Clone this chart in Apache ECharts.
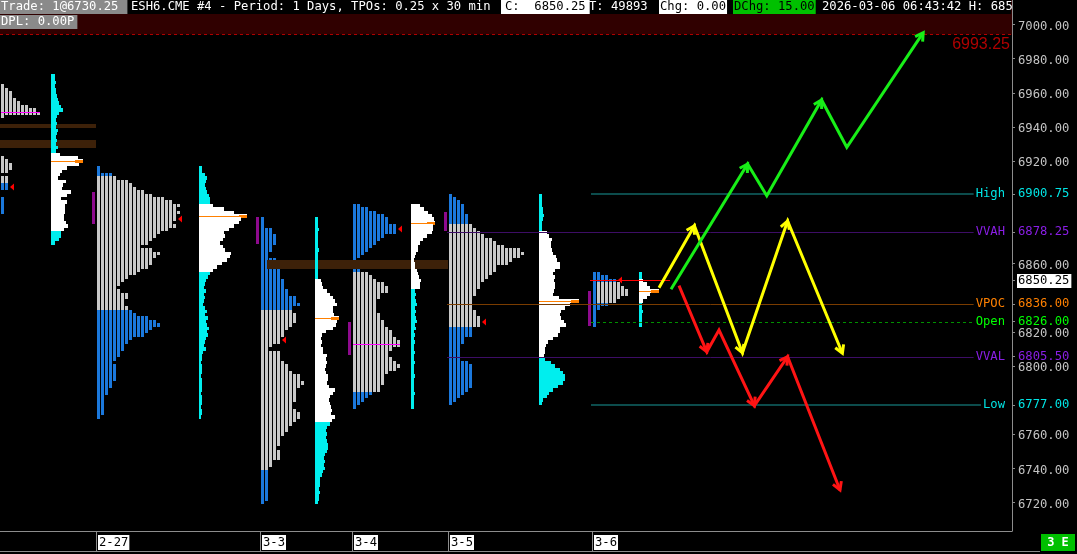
<!DOCTYPE html>
<html>
<head>
<meta charset="utf-8">
<script src="https://cdn.jsdelivr.net/npm/echarts@6.0.0/dist/echarts.min.js"></script>
<style>
html,body{margin:0;padding:0;background:#000;overflow:hidden}
#chart{width:1077px;height:554px}
</style>
</head>
<body>
<div id="chart"></div>
<script>
// ================= DATA =================
const ROW = 2;                      // each profile row covers 2 points
const yMin = 6703.3, yMax = 7014.35;
const xMax = 253;                   // 30-minute column slots across the chart

const sessionNames = ['2-26', '2-27', '3-3', '3-4', '3-5', '3-6'];
const sessionStart = [0.25, 24.25, 65.25, 88.25, 112.25, 148.25];   // slot where each TPO profile begins
const volumeStart  = [12.75, 49.75, 78.75, 102.75, 134.75, 159.75]; // slot where each volume profile begins

// TPO counts per 2-point row, from the top price downwards
const tpoTop = [6964, 6916, 6886, 6894, 6900, 6854];
const tpo_2_26 = [1,2,3,3,4,5,7,9,10,1,0,0,0,0,0,0,0,0,0,0,0,1,2,3,3,2,0,2,2,2,2,0,0,1,1,1,1,1];
const tpo_2_27 = [1,1,4,5,8,9,10,12,14,17,19,21,20,21,20,20,19,20,18,16,15,14,13,11,14,16,15,14,14,13,11,10,8,7,6,5,6,8,8,7,7,8,9,10,13,15,16,14,13,12,9,8,7,7,6,6,5,4,5,5,5,5,5,4,4,3,3,2,2,2,2,2,2,1];
const tpo_3_3 = [1,1,1,3,3,4,4,4,3,3,2,2,4,4,4,5,5,5,6,6,6,7,7,9,9,10,8,8,9,9,9,8,7,6,6,5,5,3,2,5,5,5,6,7,7,8,10,10,11,10,9,9,9,9,8,8,9,10,10,9,8,7,7,6,5,5,5,4,5,5,5,3,3,2,2,2,2,2,2,2,2,2,2,1];
const tpo_3_4 = [2,4,6,8,9,9,11,11,11,8,7,6,5,4,3,2,1,1,1,2,4,5,6,8,9,9,7,7,6,6,6,6,7,7,8,8,9,10,10,11,12,12,10,9,9,10,11,12,11,9,8,8,8,7,7,5,4,3,2,1];
const tpo_3_5 = [1,2,3,4,4,4,5,5,5,6,7,8,9,11,12,14,18,19,18,16,15,12,12,11,10,9,8,8,7,7,6,6,6,6,7,7,8,8,8,6,6,6,4,4,3,3,3,3,3,5,6,6,6,6,6,6,6,5,4,3,2,1];
const tpo_3_6 = [2,4,6,7,8,9,9,7,6,4,2,1,1,1,1,1];
const tpoValueLow  = [6907, 6833, 6739, 6785, 6823, 6837];  // grey (value) zone of each TPO profile
const tpoValueHigh = [6999, 6911, 6833, 6855, 6882.5, 6849];
const tpoPoc = [6949, null, null, 6812.7, null, null];
const ibHigh = [null, 6901.9, 6887.2, 6825.9, 6890.2, 6843.9];  // initial balance
const ibLow  = [null, 6883.1, 6871.4, 6806.6, 6879.0, 6823.4];
const closePrice = [6904.8, 6885.8, 6815.2, 6880.2, 6825.9, 6850.25];

// Volume per 2-point row (relative units), from the top price downwards
const volTop = [6970, 6916, 6886, 6894, 6900, 6854];
const vol_2_26 = [4,4,5,4,5,5,6,7,8,10,12,8,6,5,6,5,7,6,5,6,5,7,5,9,27,32,28,16,11,9,7,15,12,11,20,16,10,16,14,14,14,13,13,15,17,13,10,10,8,4];
const vol_2_27 = [3,3,6,8,7,6,7,8,10,11,11,14,25,35,48,42,40,35,30,25,26,24,21,24,26,32,31,28,23,18,14,11,9,7,6,5,7,5,6,5,4,6,8,6,9,7,8,10,8,9,7,6,5,7,4,3,3,2,3,3,3,2,3,3,3,3,2,3,3,3,2,3,3,2];
const vol_3_3 = [3,3,3,4,3,3,3,3,3,4,3,3,3,3,3,3,3,3,6,7,8,12,15,18,20,22,18,18,19,24,22,21,18,11,7,6,7,6,8,8,12,11,12,11,10,11,13,13,12,14,20,18,15,14,15,16,17,16,20,17,15,12,11,12,11,12,13,13,12,10,9,10,9,10,8,7,5,5,5,4,5,4,4,3];
const vol_3_4 = [9,13,17,21,23,24,22,22,21,16,12,9,7,7,5,4,3,4,4,6,7,8,10,9,9,4,5,4,5,6,4,5,4,5,6,4,5,3,4,3,4,3,3,4,3,3,4,3,3,3,4,3,3,3,3,4,3,3,3,3];
const vol_3_5 = [3,3,3,3,4,4,5,4,3,3,3,8,10,13,12,12,13,14,17,18,21,21,16,14,16,15,16,16,15,14,20,40,31,26,22,21,22,25,27,21,21,19,14,9,7,6,6,5,6,12,16,21,24,26,26,24,19,14,10,8,4,3];
const vol_3_6 = [3,3,4,8,11,20,11,8,4,3,3,4,3,3,3,3];
const volValueLow  = [6879, 6855, 6767, 6845, 6805.5, 6837];
const volValueHigh = [6925, 6895, 6851, 6895, 6878.25, 6851];
const volPoc = [6920, 6888, 6828, 6884, 6838, 6844];
const VOL_PER_SLOT = 4;

// Unfilled zones (price range, from session/column to session)
const bandHigh = [6942.0, 6932.3, 6862.0];
const bandLow  = [6939.6, 6927.7, 6856.8];
const bandFromSession = [0, 0, 2];
const bandFromCol = [-0.25, -0.25, 1.5];
const bandToSession = [1, 1, 4];

// Reference levels
const levelNames  = ['High', 'VVAH', 'VPOC', 'Open', 'VVAL', 'Low'];
const levelPrices = [6900.75, 6878.25, 6836.00, 6826.00, 6805.50, 6777.00];
const levelFromSession = [5, 4, 4, 5, 4, 5];
const lastPrice = 6850.25;
const alertPrice = 6993.25;

// Scenario arrows (slot, price)
const yellowX = [164.75, 173.6, 185.6, 196.9, 210.6];
const yellowP = [6845.8, 6882.1, 6807.7, 6884.9, 6807.4];
const greenX  = [167.75, 186.9, 191.7, 205.4, 211.7, 230.8];
const greenP  = [6844.9, 6918.3, 6899.7, 6955.8, 6928.1, 6995.2];
const redX    = [169.75, 176.7, 179.75, 188.6, 196.9, 210.0];
const redP    = [6847.0, 6808.3, 6821.0, 6776.7, 6805.4, 6727.3];
const yellowHeads = [1, 2, 3, 4];
const greenHeads  = [1, 3, 5];
const redHeads    = [1, 3, 4, 5];

// Axis labels
const dateLabels = ['2-27', '3-3', '3-4', '3-5', '3-6'];
const yTickLabels = [7000, 6980, 6960, 6940, 6920, 6860, 6820, 6800, 6760, 6740, 6720];

// Header texts
const hdrTrade = 'Trade: 1@6730.25';
const hdrTitle = 'ESH6.CME #4 - Period: 1 Days, TPOs: 0.25 x 30 min';
const hdrClose = 'C:  6850.25';
const hdrTicks = 'T: 49893';
const hdrChg = 'Chg: 0.00';
const hdrDChg = 'DChg: 15.00';
const hdrTime = '2026-03-06 06:43:42 H: 685';
const hdrDpl = 'DPL: 0.00P';
const cornerTag = '3 E';

// ================= BUILD =================
const MONO = '"DejaVu Sans Mono","Liberation Mono",monospace';
const FS = 12.2;
const FONT = FS + 'px ' + MONO;
const GRAY = '#c8c8c8', BLUE = '#1b78dc', CYAN = '#00eeee', WHITE = '#ffffff', ORANGE = '#ff8000';

const tpoSets = [tpo_2_26, tpo_2_27, tpo_3_3, tpo_3_4, tpo_3_5, tpo_3_6];
const volSets = [vol_2_26, vol_2_27, vol_3_3, vol_3_4, vol_3_5, vol_3_6];
const firstColumnBlue = [false, false, false, false, false, true];

const tpoData = [];
tpoSets.forEach((arr, s) => arr.forEach((c, i) => { if (c > 0) tpoData.push([sessionStart[s], tpoTop[s] - i * ROW, c, s]); }));
const volData = [];
volSets.forEach((arr, s) => arr.forEach((v, i) => { if (v > 0) volData.push([volumeStart[s], volTop[s] - i * ROW, v, s]); }));

function tpoCountAt(s, price) {
  const i = Math.round((tpoTop[s] - price) / ROW);
  return tpoSets[s][i] || 0;
}
const closeData = closePrice.map((p, s) => [sessionStart[s] + tpoCountAt(s, p), p]);
const pocData = [];
tpoPoc.forEach((p, s) => { if (p !== null) pocData.push([sessionStart[s], p, tpoCountAt(s, p)]); });
const ibData = [];
ibHigh.forEach((h, s) => { if (h !== null) ibData.push([sessionStart[s], h, ibLow[s]]); });
const bandData = bandHigh.map((h, i) => [sessionStart[bandFromSession[i]] + bandFromCol[i], h, sessionStart[bandToSession[i]] - 0.25, bandLow[i]]);
const levelData = levelPrices.map((p, i) => [sessionStart[levelFromSession[i]], p, i]);
const arrows = [
  { x: yellowX, p: yellowP, heads: yellowHeads, color: '#ffff00' },
  { x: greenX, p: greenP, heads: greenHeads, color: '#18ee18' },
  { x: redX, p: redP, heads: redHeads, color: '#ff1414' }
];
const arrowData = arrows.map((a, i) => [a.x[0], a.p[0], i]);

function X(api, slot) { return api.coord([slot, 6800])[0]; }
function Y(api, p) { return api.coord([10, p])[1]; }
function rowY(api, p) { return [Math.round(Y(api, p + ROW / 2)), Math.round(Y(api, p - ROW / 2))]; }

function renderTpo(params, api) {
  const p = api.value(1), n = api.value(2), s = api.value(3);
  const [y0, y1] = rowY(api, p);
  const inVA = p >= tpoValueLow[s] && p <= tpoValueHigh[s];
  const kids = [];
  for (let k = 0; k < n; k++) {
    const x = Math.round(X(api, sessionStart[s] + k));
    let fill = inVA ? GRAY : BLUE;
    if (k === 0 && firstColumnBlue[s]) fill = BLUE;
    kids.push({ type: 'rect', shape: { x: x, y: y0, width: 3, height: y1 - y0 }, style: { fill: fill } });
  }
  return { type: 'group', children: kids };
}

function renderVol(params, api) {
  const p = api.value(1), v = api.value(2), s = api.value(3);
  const [y0, y1] = rowY(api, p);
  const x0 = Math.round(X(api, volumeStart[s]));
  const x1 = Math.round(X(api, volumeStart[s] + v / VOL_PER_SLOT));
  const inVA = p >= volValueLow[s] && p <= volValueHigh[s];
  const kids = [{ type: 'rect', shape: { x: x0, y: y0, width: Math.max(1, x1 - x0), height: y1 - y0 }, style: { fill: inVA ? WHITE : CYAN } }];
  if (p === volPoc[s]) {
    const ym = Math.round((y0 + y1) / 2);
    kids.push({ type: 'rect', shape: { x: x0, y: ym, width: x1 - x0 - 7, height: 1 }, style: { fill: ORANGE } });
    kids.push({ type: 'rect', shape: { x: x1 - 8, y: ym - 1, width: 8, height: 3 }, style: { fill: ORANGE } });
  }
  return { type: 'group', children: kids };
}

function renderBand(params, api) {
  const xa = Math.round(X(api, api.value(0))), xb = Math.round(X(api, api.value(2)));
  const ya = Math.round(Y(api, api.value(1))), yb = Math.round(Y(api, api.value(3)));
  return { type: 'rect', shape: { x: xa, y: ya, width: xb - xa, height: yb - ya }, style: { fill: '#3d2109' } };
}

function renderIB(params, api) {
  const x = Math.round(X(api, api.value(0))) - 5;
  const ya = Math.round(Y(api, api.value(1))), yb = Math.round(Y(api, api.value(2)));
  return { type: 'rect', shape: { x: x, y: ya, width: 3, height: yb - ya }, style: { fill: '#8e0a8e' } };
}

function renderPoc(params, api) {
  const xa = Math.round(X(api, api.value(0)));
  const xb = Math.round(X(api, api.value(0) + api.value(2))) - 1;
  const y = Math.round(Y(api, api.value(1))) + 0.5;
  return { type: 'line', shape: { x1: xa, y1: y, x2: xb, y2: y }, style: { stroke: '#ff00ff', lineWidth: 1 } };
}

function renderClose(params, api) {
  const tx = Math.round(X(api, api.value(0))) + 1;
  const ty = Math.round(Y(api, api.value(1)));
  return { type: 'polygon', shape: { points: [[tx, ty], [tx + 4, ty - 3.5], [tx + 4, ty + 3.5]] }, style: { fill: '#ff0000' } };
}

const levelStyle = {
  High: { line: '#0c4c4c', width: 2, text: '#00e5e5' },
  Low:  { line: '#0c4c4c', width: 2, text: '#00e5e5' },
  VVAH: { line: '#3d0d66', width: 1, text: '#8a1ee6' },
  VVAL: { line: '#3d0d66', width: 1, text: '#8a1ee6' },
  VPOC: { line: '#7a3c00', width: 1, text: '#ff8000' },
  Open: { line: '#009000', width: 1, text: '#00ff00', dash: [3, 3] }
};
const CHAR_W = FS * 0.602;

function renderLevel(params, api) {
  const i = api.value(2), name = levelNames[i], st = levelStyle[name];
  const yc = Math.round(Y(api, api.value(1)));
  const yl = st.width === 2 ? yc : yc + 0.5;
  const xa = Math.round(X(api, api.value(0))) - 2;
  const nameRight = 1005;
  const xb = nameRight - name.length * CHAR_W - 2;
  return { type: 'group', children: [
    { type: 'line', shape: { x1: xa, y1: yl, x2: xb, y2: yl }, style: { stroke: st.line, lineWidth: st.width, lineDash: st.dash || null } },
    { type: 'text', x: nameRight, y: yc, style: { text: name, fill: st.text, font: FONT, align: 'right', verticalAlign: 'middle' } },
    { type: 'text', x: 1018, y: yc, style: { text: api.value(1).toFixed(2), fill: st.text, font: FONT, align: 'left', verticalAlign: 'middle' } }
  ] };
}

function renderLast(params, api) {
  const y = Math.round(Y(api, api.value(1))) + 0.5;
  const xa = Math.round(X(api, api.value(0))) - 3;
  const xb = Math.round(X(api, volumeStart[5])) + 31;
  return { type: 'group', children: [
    { type: 'line', shape: { x1: xa, y1: y, x2: xb, y2: y }, style: { stroke: '#ff0000', lineWidth: 1 } },
    { type: 'text', x: 1017, y: Math.round(y), style: { text: api.value(1).toFixed(2), fill: '#000', font: FONT, align: 'left', verticalAlign: 'middle', backgroundColor: '#fff', padding: [1, 2, 1, 1] } }
  ] };
}

function renderAlert(params, api) {
  const yTop = Y(api, yMax);
  const y = Math.round(Y(api, api.value(1))) - 1.5;
  const xa = X(api, 0), xb = X(api, xMax);
  return { type: 'group', children: [
    { type: 'rect', shape: { x: xa, y: yTop, width: xb - xa, height: y - yTop }, style: { fill: '#300000' } },
    { type: 'line', shape: { x1: xa, y1: y, x2: xb, y2: y }, style: { stroke: '#b00000', lineWidth: 1, lineDash: [3, 3] } },
    { type: 'text', x: xb - 2, y: y + 2, style: { text: api.value(1).toFixed(2), fill: '#b00000', font: '16px "Liberation Sans", Arial, sans-serif', align: 'right', verticalAlign: 'top' } }
  ] };
}

function renderArrow(params, api) {
  const a = arrows[api.value(2)];
  const pts = a.x.map((x, i) => api.coord([x, a.p[i]]));
  const kids = [{ type: 'polyline', shape: { points: pts }, style: { stroke: a.color, lineWidth: 3, fill: null, lineJoin: 'miter' } }];
  const L = 9, th = Math.PI / 6;
  a.heads.forEach(i => {
    const t = pts[i], f = pts[i - 1];
    const ang = Math.atan2(t[1] - f[1], t[0] - f[0]);
    const w1 = [t[0] - L * Math.cos(ang - th), t[1] - L * Math.sin(ang - th)];
    const w2 = [t[0] - L * Math.cos(ang + th), t[1] - L * Math.sin(ang + th)];
    kids.push({ type: 'polyline', shape: { points: [w1, t, w2] }, style: { stroke: a.color, lineWidth: 3, fill: null } });
  });
  return { type: 'group', children: kids };
}

function cs(name, data, render, z) {
  return { type: 'custom', name: name, coordinateSystem: 'cartesian2d', data: data, renderItem: render, clip: false, silent: true, animation: false, z: z, encode: { x: 0, y: 1 } };
}

const labelSlots = sessionStart.slice(1).map(v => v + 0.25);
const sepSlots = sessionStart.slice(1).map(v => v - 0.25);

function txt(text, x, y, fill, bg, pad) {
  return { type: 'text', x: x, y: y, z: 101, silent: true,
    style: { text: text, fill: fill, font: FONT, backgroundColor: bg || null, padding: pad || 0, verticalAlign: 'top', lineHeight: 14 } };
}

const option = {
  backgroundColor: '#000',
  animation: false,
  grid: { left: 0, right: 65, top: 0, bottom: 23, containLabel: false },
  xAxis: {
    type: 'value', min: 0, max: xMax,
    axisLine: { show: true, onZero: false, lineStyle: { color: '#8c8c8c', width: 1 } },
    axisTick: { show: true, customValues: sepSlots, length: 21, lineStyle: { color: '#8c8c8c' } },
    axisLabel: {
      show: true, customValues: labelSlots,
      formatter: function (v) { let k = 0; labelSlots.forEach((s, i) => { if (Math.abs(s - v) < 0.01) k = i; }); return dateLabels[k]; },
      color: '#000', backgroundColor: '#fff', fontFamily: MONO, fontSize: FS, align: 'left', margin: 4, padding: [1, 1, 0, 1], lineHeight: 14
    },
    splitLine: { show: false }
  },
  yAxis: {
    type: 'value', position: 'right', min: yMin, max: yMax,
    axisLine: { show: true, onZero: false, lineStyle: { color: '#8c8c8c' } },
    axisTick: { show: true, length: 3, customValues: yTickLabels.concat(levelPrices, [lastPrice]), lineStyle: { color: '#8c8c8c' } },
    axisLabel: {
      show: true, customValues: yTickLabels, margin: 6,
      formatter: v => '{t|' + v.toFixed(2) + '}',
      rich: { t: { color: '#c4c4c4', fontFamily: MONO, fontSize: FS, lineHeight: 14, padding: [4, 0, 0, 0] } }
    },
    splitLine: { show: false }
  },
  series: [
    cs('alert', [[0, alertPrice]], renderAlert, 1),
    cs('tpo', tpoData, renderTpo, 2),
    cs('bands', bandData, renderBand, 3),
    cs('volume', volData, renderVol, 4),
    cs('ib', ibData, renderIB, 5),
    cs('tpoPoc', pocData, renderPoc, 5),
    cs('close', closeData, renderClose, 6),
    cs('levels', levelData, renderLevel, 6),
    cs('last', [[sessionStart[5], lastPrice]], renderLast, 7),
    cs('arrows', arrowData, renderArrow, 8)
  ],
  graphic: { elements: [
    { type: 'rect', shape: { x: 0, y: 0, width: 1011, height: 14 }, style: { fill: '#000' }, z: 100, silent: true },
    txt(hdrTrade, 0, 0, '#fff', '#8a8a8a', [0, 9, 0, 1]),
    txt(hdrTitle, 131, 0, '#fff'),
    txt(hdrClose, 501, 0, '#000', '#fff', [0, 4, 0, 4]),
    txt(hdrTicks, 589, 0, '#fff'),
    txt(hdrChg, 659, 0, '#000', '#fff', [0, 1, 0, 1]),
    txt(hdrDChg, 733, 0, '#000', '#00c000', [0, 1, 0, 1]),
    txt(hdrTime, 822, 0, '#fff'),
    txt(hdrDpl, 0, 15, '#fff', '#8a8a8a', [0, 3, 0, 1]),
    { type: 'line', shape: { x1: 0, y1: 551.5, x2: 1040, y2: 551.5 }, style: { stroke: '#8c8c8c', lineWidth: 1 }, z: 100, silent: true },
    { type: 'rect', shape: { x: 1041, y: 534, width: 34, height: 17 }, style: { fill: '#00c000' }, z: 100, silent: true },
    { type: 'text', x: 1058, y: 542.5, z: 101, silent: true, style: { text: cornerTag, fill: '#fff', font: 'bold 12px ' + MONO, align: 'center', verticalAlign: 'middle' } }
  ] }
};

const chart = echarts.init(document.getElementById('chart'), null, { renderer: 'canvas' });
chart.setOption(option);
</script>
</body>
</html>
